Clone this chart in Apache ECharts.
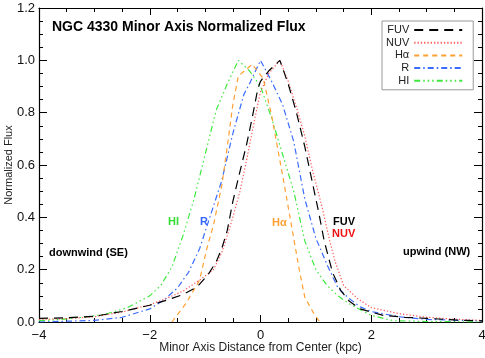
<!DOCTYPE html>
<html>
<head>
<meta charset="utf-8">
<script src="https://cdn.jsdelivr.net/npm/echarts@6/dist/echarts.min.js"></script>
<style>
  html, body { margin: 0; padding: 0; background: #fff; }
  #chart { width: 485px; height: 358px; }
</style>
</head>
<body>
<div id="chart"></div>
<script>
// minor axis profiles, [kpc, normalized flux]
const fuv = [[-4, 0.014], [-3.5, 0.016], [-3, 0.022], [-2.5, 0.04], [-2, 0.064], [-1.7, 0.083],
  [-1.4, 0.105], [-1.15, 0.133], [-0.95, 0.18], [-0.8, 0.23], [-0.7, 0.28], [-0.6, 0.35],
  [-0.5, 0.46], [-0.4, 0.55], [-0.25, 0.68], [-0.15, 0.78], [-0.05, 0.89], [0, 0.92],
  [0.15, 0.96], [0.35, 1.0], [0.5, 0.91], [0.65, 0.8], [0.8, 0.67], [0.95, 0.52],
  [1.05, 0.42], [1.15, 0.31], [1.3, 0.19], [1.45, 0.12], [1.6, 0.08], [1.8, 0.05],
  [2.2, 0.026], [2.6, 0.018], [3, 0.014], [3.5, 0.008], [4, 0.004]]
const nuv = [[-4, 0.01], [-3.5, 0.013], [-3, 0.02], [-2.5, 0.038], [-2, 0.066], [-1.7, 0.09],
  [-1.4, 0.118], [-1.1, 0.16], [-0.85, 0.2], [-0.7, 0.265], [-0.6, 0.33], [-0.5, 0.4],
  [-0.37, 0.5], [-0.25, 0.62], [-0.1, 0.78], [0, 0.88], [0.15, 0.95], [0.35, 1.0],
  [0.5, 0.92], [0.65, 0.82], [0.8, 0.71], [0.95, 0.57], [1.1, 0.45], [1.25, 0.31],
  [1.35, 0.23], [1.5, 0.14], [1.75, 0.09], [2, 0.055], [2.5, 0.032], [3, 0.018],
  [3.5, 0.011], [4, 0.006]]
const halpha = [[-1.6, 0], [-1.35, 0.07], [-1.1, 0.16], [-0.97, 0.28], [-0.85, 0.37],
  [-0.7, 0.52], [-0.6, 0.67], [-0.5, 0.83], [-0.4, 0.94], [-0.15, 0.985], [0.05, 0.93],
  [0.2, 0.79], [0.4, 0.56], [0.6, 0.32], [0.7, 0.2], [0.8, 0.095], [0.95, 0.037], [1.07, 0]]
const rband = [[-4, 0], [-3.5, 0.003], [-3, 0.006], [-2.5, 0.018], [-2, 0.05], [-1.75, 0.083],
  [-1.5, 0.13], [-1.3, 0.19], [-1.1, 0.28], [-0.9, 0.41], [-0.7, 0.54], [-0.5, 0.72],
  [-0.3, 0.87], [-0.2, 0.91], [0, 1.0], [0.2, 0.92], [0.4, 0.83], [0.6, 0.69], [0.8, 0.47],
  [1.0, 0.32], [1.2, 0.22], [1.4, 0.13], [1.6, 0.09], [1.8, 0.058], [2, 0.04], [2.5, 0.02],
  [3, 0.01], [3.5, 0.007], [4, 0.005]]
const hi = [[-4, 0.005], [-3.6, 0.01], [-3.2, 0.018], [-2.8, 0.03], [-2.4, 0.055], [-2, 0.1],
  [-1.8, 0.14], [-1.6, 0.21], [-1.4, 0.33], [-1.2, 0.47], [-1.0, 0.64], [-0.8, 0.81],
  [-0.6, 0.91], [-0.4, 1.0], [-0.2, 0.96], [0, 0.9], [0.2, 0.78], [0.4, 0.64], [0.6, 0.5],
  [0.8, 0.31], [1.0, 0.2], [1.2, 0.14], [1.4, 0.1], [1.6, 0.07], [2, 0.025], [2.4, 0.005],
  [3, 0.002], [4, 0]]

const FONT = 'Liberation Sans, Arial, Helvetica, sans-serif'

const chart = echarts.init(document.getElementById('chart'))

function xAxisOf(pos) {
  return {
    type: 'value', position: pos, min: -4, max: 4, interval: 2,
    axisLine: { onZero: false, lineStyle: { color: '#000', width: 1.2 } },
    axisTick: { inside: true, length: 7, lineStyle: { color: '#000' } },
    minorTick: { show: true, splitNumber: 4, length: 4, lineStyle: { color: '#000' } },
    splitLine: { show: false },
    axisLabel: pos === 'bottom' ? {
      margin: 7, fontSize: 13, color: '#111', fontFamily: FONT,
      formatter: v => (v < 0 ? '\u2212' + Math.abs(v) : String(v))
    } : { show: false },
    name: pos === 'bottom' ? 'Minor Axis Distance from Center (kpc)' : '',
    nameLocation: 'middle', nameGap: 20, nameMoveOverlap: false,
    nameTextStyle: { fontSize: 12, color: '#222', fontFamily: FONT }
  }
}

function yAxisOf(pos) {
  return {
    type: 'value', position: pos, min: 0, max: 1.2, interval: 0.2,
    axisLine: { onZero: false, lineStyle: { color: '#000', width: 1.2 } },
    axisTick: { inside: true, length: 8, lineStyle: { color: '#000' } },
    minorTick: { show: true, splitNumber: 4, length: 4, lineStyle: { color: '#000' } },
    splitLine: { show: false },
    axisLabel: pos === 'left' ? {
      margin: 4, fontSize: 13, color: '#111', fontFamily: FONT,
      formatter: v => v.toFixed(1)
    } : { show: false },
    name: pos === 'left' ? 'Normalized Flux' : '',
    nameLocation: 'middle', nameGap: 25, nameMoveOverlap: false,
    nameTextStyle: { fontSize: 11, color: '#222', fontFamily: FONT }
  }
}

function lineOf(name, data, color, dash, z) {
  return {
    name, type: 'line', data, symbol: 'none', z,
    xAxisIndex: 0, yAxisIndex: 0,
    lineStyle: { color, width: 1.2, type: dash },
    itemStyle: { color }
  }
}

function label(text, x, y, color) {
  return {
    type: 'text', x, y,
    style: { text, fill: color, font: 'bold 11px ' + FONT, verticalAlign: 'middle' }
  }
}

chart.setOption({
  backgroundColor: '#fff',
  animation: false,
  title: {
    text: 'NGC 4330 Minor Axis Normalized Flux',
    left: 52, top: 20, padding: 0,
    textStyle: { fontSize: 14, fontWeight: 'bold', color: '#000', fontFamily: FONT }
  },
  grid: { left: 39, right: 3, top: 8, bottom: 36, outerBoundsMode: 'none', containLabel: false },
  xAxis: [xAxisOf('bottom'), xAxisOf('top')],
  yAxis: [yAxisOf('left'), yAxisOf('right')],
  legend: {
    orient: 'vertical', align: 'right',
    left: 382, top: 21,
    padding: [3, 10, 3, 4],
    itemWidth: 48, itemHeight: 12, itemGap: 0.7,
    itemStyle: { opacity: 0 },
    backgroundColor: '#fff', borderColor: '#999', borderWidth: 1,
    textStyle: { fontSize: 11, lineHeight: 12, color: '#222', fontFamily: FONT },
    data: ['FUV', 'NUV', 'H\u03b1', 'R', 'HI']
  },
  series: [
    lineOf('FUV', fuv, '#000000', [9, 6], 5),
    lineOf('NUV', nuv, '#ff5a5a', [1.3, 2], 4),
    lineOf('H\u03b1', halpha, '#ffa033', [5, 4], 3),
    lineOf('R', rband, '#3a6cff', [6, 3, 1.5, 3], 2),
    lineOf('HI', hi, '#3ee83e', [6, 3, 1.5, 3, 1.5, 3, 1.5, 3], 1)
  ],
  graphic: [
    label('HI', 168, 222, '#33dd33'),
    label('R', 200, 222, '#3366ff'),
    label('H\u03b1', 272, 223, '#ffa033'),
    label('FUV', 333, 222, '#000'),
    label('NUV', 332, 234, '#ee1111'),
    label('downwind (SE)', 49, 253, '#000'),
    label('upwind (NW)', 403, 252, '#000')
  ]
})
</script>
</body>
</html>
